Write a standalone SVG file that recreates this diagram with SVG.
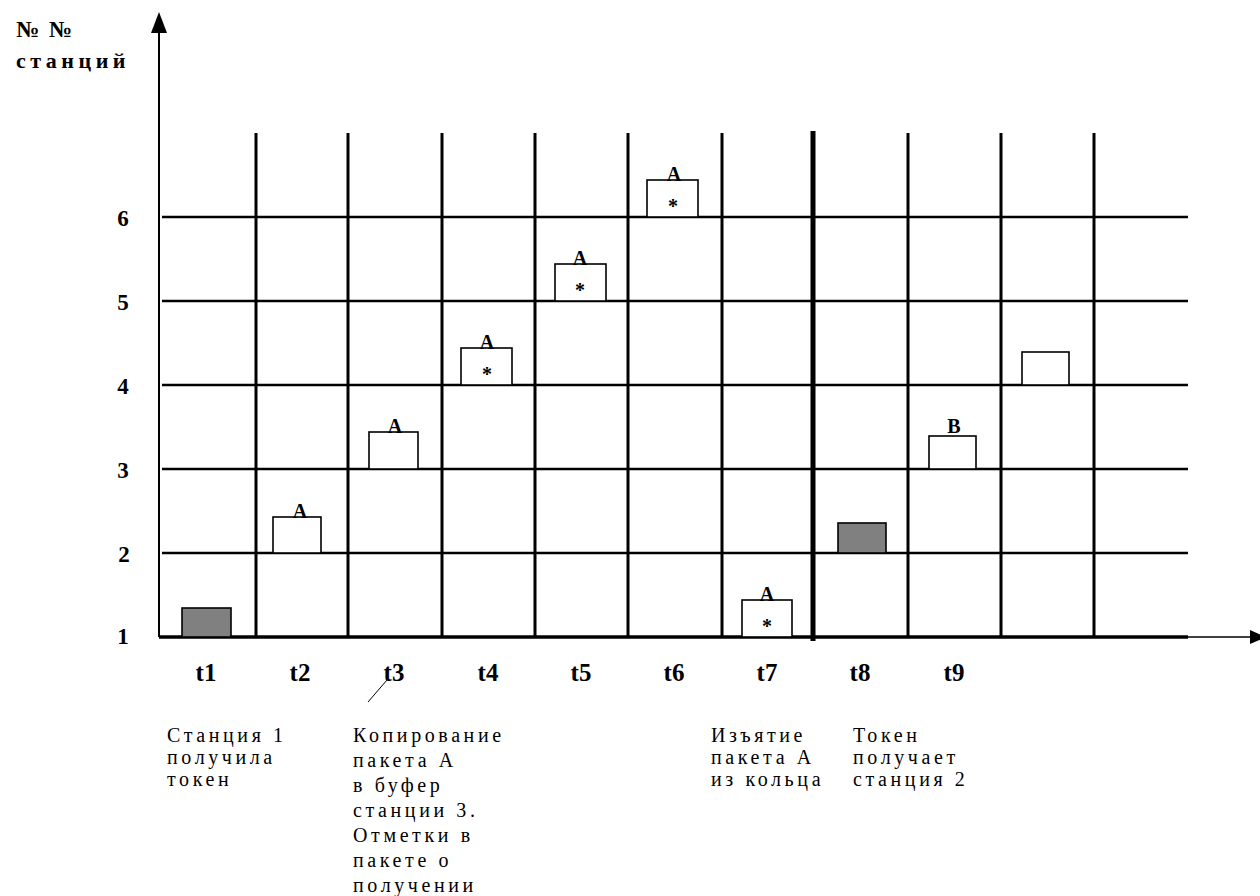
<svg xmlns="http://www.w3.org/2000/svg" width="1260" height="896" viewBox="0 0 1260 896">
<style>
.bg{fill:#fff}
.grid{stroke:#000;stroke-width:3}
.hgrid{stroke:#000;stroke-width:2.5}
.box{fill:#fff;stroke:#000;stroke-width:1.6}
.tok{fill:#808080;stroke:#000;stroke-width:1.6}
.b{font-family:"Liberation Serif","Times New Roman",serif;font-weight:bold;fill:#000}
.lab{font-size:20px;text-anchor:middle}
.ax{font-size:23px;text-anchor:middle}
.t{font-size:25px;text-anchor:middle}
.note{font-family:"Liberation Serif","Times New Roman",serif;font-size:20px;letter-spacing:3.6px;fill:#000}
</style>
<rect class="bg" x="0" y="0" width="1260" height="896"/>
<g id="axes">
<line x1="159" y1="637" x2="159" y2="30" stroke="#000" stroke-width="2"/>
<polygon points="159,12 151,33 167,33" fill="#000"/>
<line x1="159" y1="637" x2="1188" y2="637" stroke="#000" stroke-width="3.5"/>
<line x1="1188" y1="637" x2="1250" y2="637" stroke="#000" stroke-width="1.5"/>
<polygon points="1266,637 1250,630 1250,644" fill="#000"/>
</g>
<g id="grid">
<line class="hgrid" x1="162" y1="217" x2="1188" y2="217"/>
<line class="hgrid" x1="162" y1="301" x2="1188" y2="301"/>
<line class="hgrid" x1="162" y1="385" x2="1188" y2="385"/>
<line class="hgrid" x1="162" y1="469" x2="1188" y2="469"/>
<line class="hgrid" x1="162" y1="553" x2="1188" y2="553"/>
<line class="grid" x1="256" y1="133" x2="256" y2="637"/>
<line class="grid" x1="348" y1="133" x2="348" y2="637"/>
<line class="grid" x1="442" y1="133" x2="442" y2="637"/>
<line class="grid" x1="535" y1="133" x2="535" y2="637"/>
<line class="grid" x1="628" y1="133" x2="628" y2="637"/>
<line class="grid" x1="722" y1="133" x2="722" y2="637" stroke-width="2.5"/>
<line x1="813" y1="131" x2="813" y2="641" stroke="#000" stroke-width="5"/>
<line class="grid" x1="908" y1="133" x2="908" y2="637"/>
<line class="grid" x1="1001" y1="133" x2="1001" y2="637"/>
<line class="grid" x1="1094" y1="133" x2="1094" y2="637"/>
</g>
<g id="ylabels" class="b ax">
<text x="123" y="226">6</text>
<text x="123" y="310">5</text>
<text x="123" y="394">4</text>
<text x="123" y="478">3</text>
<text x="124" y="562">2</text>
<text x="123" y="644">1</text>
</g>
<g id="ytitle" class="b">
<text x="16" y="37" font-size="23" letter-spacing="2">№ №</text>
<text x="16" y="68" font-size="22" letter-spacing="4.5">станций</text>
</g>
<g id="tlabels" class="b t">
<text x="206" y="681">t1</text>
<text x="300" y="681">t2</text>
<text x="394" y="681">t3</text>
<text x="488" y="681">t4</text>
<text x="581" y="681">t5</text>
<text x="674" y="681">t6</text>
<text x="767" y="681">t7</text>
<text x="860" y="681">t8</text>
<text x="954" y="681">t9</text>
</g>
<g id="n-t1"><rect class="tok" x="182" y="608" width="49" height="29"/></g>
<g id="n-t2"><rect class="box" x="273" y="517" width="48" height="36"/><text class="b lab" x="300" y="518">A</text></g>
<g id="n-t3"><rect class="box" x="369" y="432" width="49" height="37"/><text class="b lab" x="395" y="433">A</text></g>
<g id="n-t4"><rect class="box" x="461" y="348" width="51" height="37"/><text class="b lab" x="487" y="349">A</text><text class="b lab" x="487" y="381">*</text></g>
<g id="n-t5"><rect class="box" x="555" y="264" width="51" height="37"/><text class="b lab" x="580" y="265">A</text><text class="b lab" x="580" y="297">*</text></g>
<g id="n-t6"><rect class="box" x="647" y="180" width="51" height="37"/><text class="b lab" x="674" y="181">A</text><text class="b lab" x="673" y="213">*</text></g>
<g id="n-t7"><rect class="box" x="742" y="600" width="50" height="37"/><text class="b lab" x="767" y="601">A</text><text class="b lab" x="767" y="633">*</text></g>
<g id="n-t8"><rect class="tok" x="838" y="523" width="48" height="30"/></g>
<g id="n-t9"><rect class="box" x="929" y="436" width="47" height="33"/><text class="b lab" x="954" y="433">B</text></g>
<g id="n-t10"><rect class="box" x="1022" y="352" width="47" height="33"/></g>
<g id="connectors">
<line x1="387" y1="680" x2="368" y2="702" stroke="#000" stroke-width="1"/>
</g>
<g id="notes" class="note">
<text x="167" y="742">Станция 1</text>
<text x="167" y="764">получила</text>
<text x="167" y="786">токен</text>
<text x="353" y="742">Копирование</text>
<text x="353" y="767">пакета А</text>
<text x="353" y="792">в буфер</text>
<text x="353" y="817">станции 3.</text>
<text x="353" y="842">Отметки в</text>
<text x="353" y="867">пакете о</text>
<text x="353" y="892">получении</text>
<text x="711" y="742">Изъятие</text>
<text x="711" y="764">пакета А</text>
<text x="711" y="786">из кольца</text>
<text x="853" y="742">Токен</text>
<text x="853" y="764">получает</text>
<text x="853" y="786">станция 2</text>
</g>
</svg>
